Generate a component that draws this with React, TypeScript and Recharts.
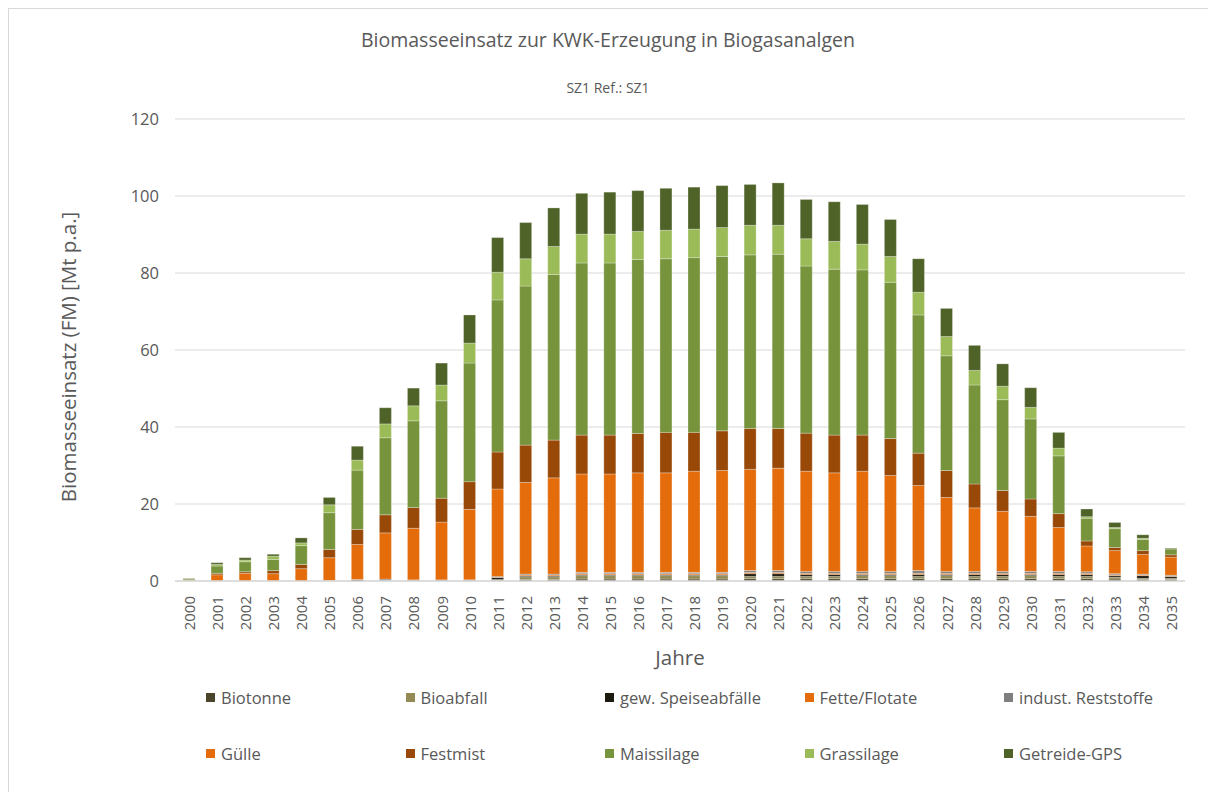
import React from 'react';
import { BarChart, Bar, XAxis, YAxis, CartesianGrid } from 'recharts';

const years = [
  '2000', '2001', '2002', '2003', '2004', '2005', '2006', '2007', '2008', '2009',
  '2010', '2011', '2012', '2013', '2014', '2015', '2016', '2017', '2018', '2019',
  '2020', '2021', '2022', '2023', '2024', '2025', '2026', '2027', '2028', '2029',
  '2030', '2031', '2032', '2033', '2034', '2035',
];

// Mt p.a.
const biotonne = [0, 0, 0, 0, 0, 0, 0, 0.1, 0, 0, 0, 0.1, 0.4, 0.4, 0.5, 0.5, 0.5, 0.5, 0.5, 0.5, 0.6, 0.6, 0.6, 0.6, 0.6, 0.6, 0.6, 0.6, 0.6, 0.6, 0.6, 0.6, 0.6, 0.5, 0.4, 0.4];
const bioabfall = [0.1, 0, 0, 0, 0, 0, 0, 0, 0, 0, 0, 0.3, 0.7, 0.7, 0.9, 0.9, 0.9, 0.9, 0.9, 0.9, 0.6, 0.6, 0.6, 0.6, 0.8, 0.8, 0.6, 0.8, 0.6, 0.6, 0.8, 0.6, 0.6, 0.5, 0.3, 0.3];
const speiseabfaelle = [0, 0, 0, 0, 0, 0, 0.3, 0, 0.2, 0.2, 0.2, 0.5, 0.2, 0.2, 0.2, 0.2, 0.2, 0.2, 0.2, 0.2, 0.7, 0.7, 0.5, 0.5, 0.3, 0.3, 0.5, 0.3, 0.5, 0.5, 0.3, 0.5, 0.5, 0.4, 0.7, 0.5];
const fette = [0, 0, 0, 0, 0, 0, 0, 0, 0, 0, 0, 0.05, 0.25, 0.25, 0.3, 0.3, 0.3, 0.3, 0.3, 0.3, 0.3, 0.3, 0.3, 0.3, 0.3, 0.3, 0.3, 0.3, 0.3, 0.3, 0.3, 0.3, 0.3, 0.2, 0.2, 0.1];
const reststoffe = [0, 0, 0, 0, 0, 0.1, 0.1, 0.4, 0.1, 0.1, 0.1, 0.25, 0.25, 0.25, 0.35, 0.35, 0.35, 0.35, 0.35, 0.35, 0.5, 0.5, 0.5, 0.5, 0.5, 0.5, 0.7, 0.5, 0.5, 0.5, 0.5, 0.5, 0.4, 0.3, 0.2, 0.2];
const guelle = [0.2, 1.6, 2.0, 1.9, 3.2, 5.95, 9.1, 12.0, 13.4, 15.0, 18.3, 22.7, 23.8, 25.0, 25.55, 25.55, 25.85, 25.85, 26.25, 26.45, 26.3, 26.6, 26.0, 25.6, 26.0, 24.9, 22.1, 19.2, 16.5, 15.6, 14.3, 11.4, 6.7, 6.0, 5.1, 4.7];
const festmist = [0, 0.4, 0.4, 0.8, 1.1, 2.15, 3.9, 4.7, 5.4, 6.2, 7.2, 9.6, 9.7, 9.8, 10.1, 10.1, 10.2, 10.5, 10.1, 10.3, 10.6, 10.3, 9.9, 9.8, 9.4, 9.6, 8.4, 7.0, 6.2, 5.4, 4.5, 3.6, 1.3, 0.8, 1.0, 0.6];
const maissilage = [0.3, 1.9, 2.6, 2.9, 4.9, 9.55, 15.4, 20.0, 22.5, 25.3, 30.8, 39.5, 41.3, 43.0, 44.7, 44.7, 45.2, 45.1, 45.4, 45.3, 45.1, 45.3, 43.4, 43.1, 42.9, 40.6, 35.9, 29.8, 25.7, 23.6, 20.8, 15.0, 5.9, 4.9, 2.9, 1.5];
const grassilage = [0, 0.4, 0.45, 0.85, 0.7, 2.05, 2.6, 3.6, 3.9, 4.1, 5.2, 7.2, 7.1, 7.3, 7.5, 7.5, 7.3, 7.4, 7.4, 7.5, 7.7, 7.5, 7.1, 7.2, 6.7, 6.7, 5.9, 5.0, 3.8, 3.5, 3.0, 2.0, 0.4, 0.3, 0.3, 0];
const getreideGps = [0.1, 0.45, 0.6, 0.5, 1.3, 1.9, 3.6, 4.2, 4.6, 5.7, 7.3, 9.0, 9.4, 10.0, 10.6, 10.9, 10.6, 10.9, 10.9, 10.9, 10.6, 11.0, 10.2, 10.3, 10.3, 9.6, 8.7, 7.3, 6.5, 5.8, 5.1, 4.1, 2.0, 1.3, 0.9, 0.2];

const yTicks = [0, 20, 40, 60, 80, 100, 120];

const series = [
  { key: 'biotonne', name: 'Biotonne', color: '#4a452a', values: biotonne },
  { key: 'bioabfall', name: 'Bioabfall', color: '#948a54', values: bioabfall },
  { key: 'speise', name: 'gew. Speiseabfälle', color: '#1d1b10', values: speiseabfaelle },
  { key: 'fette', name: 'Fette/Flotate', color: '#e46c0a', values: fette },
  { key: 'rest', name: 'indust. Reststoffe', color: '#7f7f7f', values: reststoffe },
  { key: 'guelle', name: 'Gülle', color: '#e46c0a', values: guelle },
  { key: 'festmist', name: 'Festmist', color: '#984807', values: festmist },
  { key: 'mais', name: 'Maissilage', color: '#77933c', values: maissilage },
  { key: 'gras', name: 'Grassilage', color: '#9bbb59', values: grassilage },
  { key: 'gps', name: 'Getreide-GPS', color: '#4f6228', values: getreideGps },
];

const data = years.map((year, i) => {
  const row: Record<string, string | number> = { year };
  series.forEach((s) => {
    row[s.key] = s.values[i];
  });
  return row;
});

const FONT = '"Open Sans", sans-serif';
const TEXT = '#595959';

function YearTick(props: any) {
  const { x, y, payload } = props;
  return (
    <g transform={`translate(${x},${y + 7})`}>
      <text
        transform="rotate(-90)"
        textAnchor="end"
        dominantBaseline="central"
        fontSize={15}
        fill={TEXT}
        fontFamily={FONT}
      >
        {payload.value}
      </text>
    </g>
  );
}

export default function App() {
  return (
    <div
      style={{
        position: 'absolute',
        left: 0,
        top: 0,
        width: 1208,
        height: 792,
        background: '#fff',
        fontFamily: FONT,
        color: TEXT,
      }}
    >
      <div
        style={{
          position: 'absolute',
          left: 8,
          top: 8,
          width: 1210,
          height: 790,
          border: '1px solid #d9d9d9',
        }}
      />
      <div style={{ position: 'absolute', left: 0, width: 1216, top: 26, textAlign: 'center', fontSize: 19.5 }}>
        Biomasseeinsatz zur KWK-Erzeugung in Biogasanalgen
      </div>
      <div style={{ position: 'absolute', left: 0, width: 1216, top: 78, textAlign: 'center', fontSize: 14 }}>
        SZ1 Ref.: SZ1
      </div>
      <div
        style={{
          position: 'absolute',
          left: 68,
          top: 357,
          transform: 'translate(-50%, -50%) rotate(-90deg)',
          whiteSpace: 'nowrap',
          fontSize: 20.5,
        }}
      >
        Biomasseeinsatz (FM) [Mt p.a.]
      </div>
      <div style={{ position: 'absolute', left: 0, width: 1360, top: 643, textAlign: 'center', fontSize: 20.5 }}>
        Jahre
      </div>

      <div style={{ position: 'absolute', left: 0, top: 0 }}>
        <BarChart
          width={1208}
          height={792}
          data={data}
          margin={{ top: 119, right: 23, left: 0, bottom: 0 }}
        >
          <CartesianGrid vertical={false} stroke="#d9d9d9" strokeWidth={1.2} />
          <XAxis
            dataKey="year"
            height={211}
            interval={0}
            tickLine={false}
            axisLine={{ stroke: '#d9d9d9', strokeWidth: 1.5 }}
            tick={<YearTick />}
          />
          <YAxis
            width={175}
            domain={[0, 120]}
            ticks={yTicks}
            tickLine={false}
            axisLine={false}
            tickMargin={10}
            tick={{ fontSize: 16.5, fill: TEXT, fontFamily: FONT }}
          />
          {series.map((s) => (
            <Bar
              key={s.key}
              dataKey={s.key}
              name={s.name}
              stackId="a"
              fill={s.color}
              barSize={12}
              stroke="#ffffff"
              strokeOpacity={0.45}
              strokeWidth={0.6}
              isAnimationActive={false}
            />
          ))}
        </BarChart>
      </div>

      {/* Legend */}
      <div
        style={{
          position: 'absolute',
          left: 206,
          top: 686,
          display: 'grid',
          gridTemplateColumns: 'repeat(5, 199.5px)',
          rowGap: 34,
          fontSize: 16.5,
        }}
      >
        {series.map((s) => (
          <div key={s.key} style={{ display: 'flex', alignItems: 'center', height: 22 }}>
            <span style={{ width: 9, height: 9, background: s.color, marginRight: 6, flexShrink: 0 }} />
            <span>{s.name}</span>
          </div>
        ))}
      </div>
    </div>
  );
}
